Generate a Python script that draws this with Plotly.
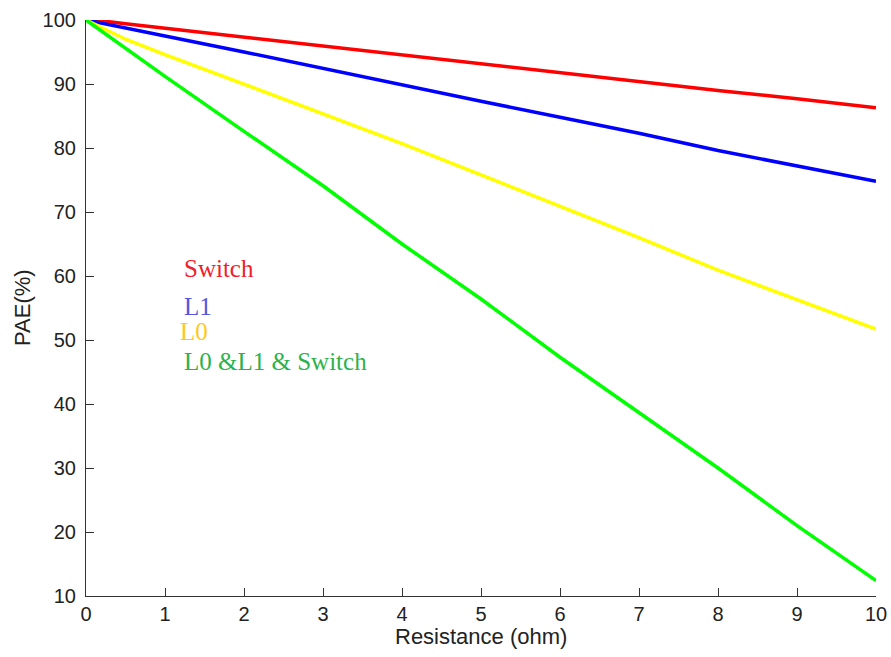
import plotly.graph_objects as go

# Resistance (ohm)
resistance = [0, 0.25, 0.5, 1, 2, 3, 4, 5, 6, 7, 8, 9, 10]

# PAE (%) per case
pae_switch = [100, 99.8, 99.4, 98.7, 97.3, 96.0, 94.6, 93.2, 91.8, 90.4, 89.0, 87.7, 86.3]
pae_l1     = [100, 99.4, 98.8, 97.5, 95.0, 92.4, 89.9, 87.3, 84.8, 82.3, 79.6, 77.2, 74.8]
pae_l0     = [100, 98.5, 97.0, 94.6, 90.0, 85.4, 80.7, 75.8, 70.9, 66.0, 60.9, 56.3, 51.7]
pae_all    = [100, 97.8, 95.6, 91.2, 82.6, 74.1, 65.0, 56.4, 47.3, 38.7, 30.0, 21.0, 12.4]

series = [
    ("Switch", pae_switch, "#ff0000"),
    ("L1", pae_l1, "#0000ff"),
    ("L0", pae_l0, "#ffff00"),
    ("L0 &L1 & Switch", pae_all, "#00ff00"),
]

# in-plot label texts, positions (data coords) and colours
label_texts = ["Switch", "L1", "L0", "L0 &L1 & Switch"]
label_x = [1.21, 1.21, 1.17, 1.21]
label_y = [61.1, 55.2, 51.4, 46.6]
label_colors = ["#f0202a", "#5656e0", "#ffc820", "#2cb24c"]

x_ticks = list(range(0, 11))
y_ticks = list(range(10, 101, 10))

fig = go.Figure()
for name, vals, col in series:
    fig.add_trace(go.Scatter(x=resistance, y=vals, mode="lines", name=name,
                             line=dict(color=col, width=3.5)))

for t, x, y, c in zip(label_texts, label_x, label_y, label_colors):
    fig.add_annotation(x=x, y=y, text=t, showarrow=False, xanchor="left", yanchor="middle",
                       font=dict(family="Liberation Serif", size=25, color=c))

fig.add_annotation(xref="paper", yref="paper", x=-0.081, y=0.5, text="PAE(%)", textangle=-90,
                   showarrow=False, xanchor="center", yanchor="middle",
                   font=dict(family="Liberation Sans", size=22, color="#222"))
fig.add_annotation(xref="paper", yref="paper", x=0.5, y=-0.071, text="Resistance (ohm)",
                   showarrow=False, xanchor="center", yanchor="middle",
                   font=dict(family="Liberation Sans", size=22, color="#222"))

axis_common = dict(showline=True, linecolor="#333", linewidth=1.2, ticks="inside", ticklen=8,
                   tickcolor="#333", showgrid=False, zeroline=False, mirror=False,
                   automargin=False,
                   tickfont=dict(family="Liberation Sans", size=20, color="#222"))
fig.update_xaxes(range=[0, 10], tickvals=x_ticks, **axis_common)
fig.update_yaxes(range=[10, 100], tickvals=y_ticks, ticklabelstandoff=5, **axis_common)

fig.update_layout(width=891, height=657, showlegend=False,
                  plot_bgcolor="white", paper_bgcolor="white",
                  margin=dict(l=86, r=15, t=20, b=61))

fig.write_html("out.html", config={"displayModeBar": False},
               post_script="document.body.style.margin='0';document.body.style.overflow='hidden';")
